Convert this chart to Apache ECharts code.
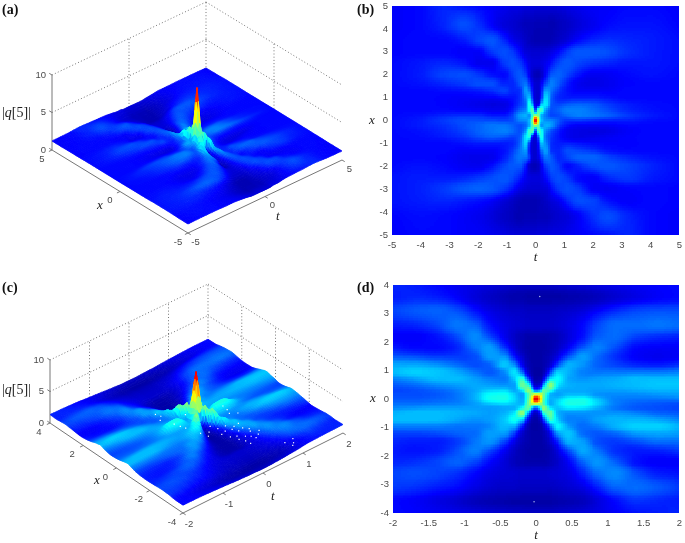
<!DOCTYPE html>
<html>
<head>
<meta charset="utf-8">
<title>|q[5]|</title>
<script src="https://cdn.jsdelivr.net/npm/echarts@6/dist/echarts.min.js"></script>
<style>
html, body { margin: 0; padding: 0; background: #fff; overflow: hidden; }
#chart { width: 685px; height: 543px; filter: blur(0.45px); }
</style>
</head>
<body>
<div id="chart"></div>
<script>
const tNodesWide = [-5,-4,-3.2,-2.5,-2,-1.5,-1.1,-0.8,-0.55,-0.35,-0.2,-0.1,0,0.1,0.2,0.35,0.55,0.8,1.1,1.5,2,2.5,3.2,4,5]
const xNodesWide = [5,4.2,3.5,3,2.5,2,1.6,1.3,1,0.7,0.45,0.2,0,-0.2,-0.45,-0.7,-1,-1.3,-1.6,-2,-2.5,-3,-3.5,-4.2,-5]
// |q[5]|, one row per x node
const fieldWide = [
  [1.2,1.3,1.6,1.4,1.3,1.2,1.1,1,1,.9,.9,.9,.9,.9,.9,.9,.9,.9,1,1.1,1.2,1.2,1.3,1.3,1.2],
  [1.2,1.3,1.6,2,1.7,1.2,.9,.8,.7,.6,.6,.6,.55,.55,.55,.55,.5,.6,.7,.9,1.1,1.3,1.4,1.4,1.25],
  [1.25,1.3,1.3,1.5,1.9,2.1,1.6,1.1,.9,.7,.6,.55,.5,.5,.5,.5,.55,.7,.9,1.3,1.6,1.7,1.6,1.5,1.35],
  [1.25,1.3,1.3,1.2,1.2,1.8,2,1.8,1.3,.9,.85,.8,.8,.8,.8,.85,1,1.3,1.8,2.1,2.1,2,1.7,1.5,1.35],
  [1.3,1.45,1.6,1.4,1.1,1.1,1.8,2,1.8,1.3,1,.9,.9,.9,.95,1.1,1.4,1.9,2.1,1.9,1.7,1.6,1.45,1.45,1.35],
  [1.3,1.5,1.9,2,1.8,1.4,1.3,1.8,2.1,1.8,1.1,.7,.55,.55,.7,1.3,2.1,2.2,1.9,1.4,1.1,1.15,1.3,1.4,1.3],
  [1.3,1.4,1.6,1.8,2,2,1.6,1.6,2.1,2.4,1.7,1.1,.8,.8,1.2,2,2.5,2.1,1.5,1.1,1,1.1,1.25,1.3,1.3],
  [1.3,1.3,1.35,1.4,1.5,1.7,1.9,1.6,1.7,2.8,2.3,1.3,.8,.8,1.4,2.8,2.4,1.8,1.4,1.2,1.2,1.2,1.3,1.3,1.3],
  [1.3,1.3,1.25,1.2,1.2,1.2,1.35,1.4,1.7,2.6,3.2,1.6,.8,.8,1.7,3.4,2.2,1.6,1.5,1.5,1.5,1.4,1.3,1.3,1.3],
  [1.3,1.3,1.25,1.15,1.05,.95,1,1.3,1.8,2.3,4,2.6,.9,1,3,3.6,2.1,1.9,2.1,2.2,2.1,1.8,1.5,1.35,1.3],
  [1.3,1.3,1.3,1.25,1.2,1.1,1.1,1.5,2.2,2.6,4,4.6,1.6,4.6,4.4,2.8,2,2.2,2.5,2.5,2.3,2,1.6,1.4,1.3],
  [1.3,1.4,1.6,1.7,1.7,1.5,1.5,1.9,2.8,3,2.6,4.5,5.6,4.7,3,2.4,1.9,2,2.3,2.5,2.4,2.2,1.8,1.5,1.3],
  [1.3,1.5,1.8,2,2,2,1.9,2,2.5,2.6,3.2,5.5,9.2,5.5,3.2,2.7,2.6,2.1,1.7,1.7,1.6,1.5,1.5,1.35,1.3],
  [1.3,1.5,1.7,2,2.2,2.4,2.4,2.2,2,2.3,3,4.7,5.6,4.5,2.6,3,2.8,1.9,1.4,1.2,1.2,1.2,1.3,1.3,1.3],
  [1.3,1.4,1.6,1.9,2.2,2.4,2.5,2.3,2,2.8,4.4,4.6,1.6,4.6,4,2.6,2,1.5,1.1,1,.95,1,1.2,1.3,1.3],
  [1.3,1.35,1.5,1.7,2,2.2,2.1,1.9,2.1,3.6,4,1,.9,2.6,4,2.3,1.8,1.4,1.1,1,1.05,1.15,1.25,1.3,1.3],
  [1.3,1.3,1.3,1.4,1.5,1.5,1.5,1.6,2.2,3.4,1.7,.8,.8,1.6,3.2,2.6,1.7,1.5,1.5,1.4,1.3,1.25,1.25,1.3,1.3],
  [1.3,1.3,1.3,1.2,1.2,1.2,1.4,1.8,2.4,2.8,1.4,.8,.8,1.3,2.3,2.8,1.7,1.6,2,1.9,1.7,1.4,1.3,1.3,1.3],
  [1.3,1.3,1.25,1.1,1.05,1.1,1.5,2,2.4,2.4,1.7,.8,.8,1.1,1.7,2.4,2.1,1.6,1.9,2.2,2.2,1.9,1.6,1.4,1.3],
  [1.3,1.4,1.3,1.15,1.1,1.4,1.9,2.1,2.1,1.4,.7,.55,.55,.7,1.1,1.8,2.1,1.8,1.3,1.6,2,2.1,1.9,1.6,1.3],
  [1.4,1.5,1.5,1.6,1.8,2,2.1,1.9,1.5,1.1,.95,.9,.9,.9,1,1.3,1.8,2,1.8,1.3,1.2,1.6,1.8,1.5,1.3],
  [1.4,1.55,1.8,2.1,2.2,2.1,1.8,1.4,1,.85,.8,.8,.8,.8,.85,.9,1.3,1.8,2,1.8,1.2,1.15,1.25,1.3,1.25],
  [1.4,1.5,1.6,1.5,1.4,1.2,.9,.7,.55,.5,.5,.5,.5,.55,.6,.7,.9,1.1,1.6,2,1.9,1.4,1.2,1.3,1.25],
  [1.25,1.35,1.3,1.2,1.1,.9,.7,.6,.5,.55,.55,.55,.55,.6,.6,.6,.7,.8,.9,1.2,1.7,2,1.6,1.3,1.2],
  [1.2,1.3,1.3,1.2,1.2,1.1,1,.9,.9,.9,.9,.9,.9,.9,.9,.9,1,1,1.1,1.2,1.3,1.4,1.6,1.3,1.2]
]

const tNodesNarrow = [-2,-1.7,-1.4,-1.1,-.85,-.65,-.45,-.3,-.2,-.1,-.05,0,.05,.1,.2,.3,.45,.65,.85,1.1,1.4,1.7,2]
const xNodesNarrow = [4,3.6,3.1,2.6,2.2,1.8,1.5,1.2,.95,.7,.5,.3,.15,0,-.15,-.3,-.5,-.7,-.95,-1.2,-1.5,-1.8,-2.2,-2.6,-3.1,-3.6,-4]
// |q[5]|, one row per x node
const fieldNarrow = [
  [1.6,1.5,1.3,1.1,1,.9,.8,.75,.7,.7,.7,.7,.7,.7,.7,.75,.8,.85,.95,1.05,1.15,1.25,1.3],
  [1.5,1.6,1.5,1.2,.9,.7,.55,.45,.45,.4,.4,.4,.4,.4,.4,.4,.45,.5,.6,.8,1,1.2,1.3],
  [1.9,2.1,2.2,2,1.4,1,.8,.7,.7,.65,.65,.65,.65,.65,.65,.7,.75,.9,1.2,1.6,1.9,2,2],
  [1.5,1.6,1.9,2.4,2.2,1.4,1,.85,.8,.75,.75,.75,.75,.75,.75,.8,.95,1.3,1.9,2.3,2.3,2.4,2.3],
  [1.2,1.2,1.4,2,2.6,1.9,1.1,.7,.55,.45,.45,.45,.45,.45,.5,.6,.9,1.4,2.1,2.3,1.9,1.7,1.6],
  [1.5,1.3,1.3,1.6,2.4,2.8,1.8,.9,.55,.4,.38,.38,.38,.4,.5,.7,1.2,2.1,2.5,2,1.3,1.2,1.2],
  [2.1,2,1.8,1.8,2,2.8,2.7,1.4,.8,.45,.4,.4,.4,.45,.6,1,2,2.8,2.3,1.7,1.2,1.1,1.2],
  [2.9,2.9,2.7,2.3,2,2.2,3.2,2.6,1.2,.5,.4,.38,.38,.45,.8,1.9,3,2.7,2.2,1.9,1.6,1.5,1.7],
  [3.1,3.3,3.2,2.9,2.4,2.1,2.6,3.5,2.3,.7,.4,.35,.35,.5,1.8,3.3,3,2.5,2.4,2.4,2.4,2.4,2.5],
  [2.5,2.8,3.1,3.1,2.8,2.5,2.4,3.3,4.2,1.8,.7,.4,.45,1,3.5,3.8,2.9,2.7,2.8,2.9,3.1,3.1,3.1],
  [2.1,2.3,2.6,2.8,2.9,2.8,2.7,2.8,4.8,4,1.4,.7,.9,2.6,5.2,3.6,3,2.9,2.9,3,3.1,3.2,3.2],
  [1.9,2,2.2,2.5,2.9,3.3,3.4,2.9,3.6,5.2,3.6,2.2,2.8,4.7,4.2,3,2.9,2.9,2.8,2.8,2.9,3,3],
  [2,2,2.1,2.4,3,3.8,3.9,3.3,2.8,4.6,5.6,6.4,6,5,3,2.8,3.1,3.1,2.7,2.6,2.6,2.7,2.8],
  [2.1,2.1,2.2,2.4,3,3.9,4,3.4,2.9,4.8,7,9.3,7.1,4.8,3,3.2,3.8,3.9,3.2,2.5,2.4,2.4,2.5],
  [2.3,2.3,2.4,2.5,2.8,3.3,3.5,3.2,3,5,6,6.4,5.6,4.6,2.9,3.4,4,4,3.4,2.5,2.2,2.1,2],
  [2.6,2.7,2.8,2.8,2.8,2.8,2.9,3,3.8,4.7,2.8,2.2,3.6,5.2,3.6,3.2,3.6,3.5,3,2.4,2.1,2,1.9],
  [3,3.1,3.1,3,2.9,2.8,3,3.6,5.2,2.6,.9,.7,1.4,4,4.8,3,2.7,2.7,2.7,2.7,2.5,2.2,2.1],
  [3.1,3.1,3.1,2.9,2.7,2.8,3.2,3.9,3.5,1,.45,.4,.7,1.8,4.4,3.3,2.5,2.5,2.8,3,3,2.8,2.5],
  [2.5,2.5,2.5,2.4,2.4,2.6,3.1,3,1.6,.5,.35,.35,.4,.7,2.3,3.7,2.8,2.3,2.5,3,3.3,3.3,3],
  [1.9,1.9,2,2.2,2.3,2.8,2.8,1.8,.8,.45,.38,.38,.4,.5,1.2,2.8,3.2,2.3,2.1,2.3,2.8,2.9,2.8],
  [1.6,1.5,1.5,1.8,2.4,2.7,1.9,1,.6,.45,.4,.4,.4,.45,.8,1.6,3,2.8,2,1.8,2,2.3,2.3],
  [1.5,1.4,1.5,2,2.5,2,1.2,.7,.5,.4,.38,.38,.38,.4,.55,1,2,2.9,2.4,1.7,1.5,1.6,1.8],
  [1.6,1.7,1.9,2.2,1.9,1.3,.9,.6,.5,.45,.45,.45,.45,.45,.55,.75,1.2,2.2,2.7,2.2,1.4,1.2,1.2],
  [1.9,2,1.9,1.7,1.3,1,.85,.8,.75,.75,.75,.75,.75,.75,.8,.85,1,1.6,2.3,2.6,2,1.5,1.4],
  [1.8,1.7,1.5,1.3,1,.8,.7,.7,.65,.65,.65,.65,.65,.65,.65,.7,.8,1,1.5,2.2,2.3,2.1,1.8],
  [1.3,1.2,1,.8,.6,.5,.45,.4,.4,.4,.4,.4,.4,.4,.4,.45,.5,.6,.9,1.3,1.7,1.6,1.5],
  [1.3,1.25,1.15,1.05,.95,.85,.8,.75,.75,.7,.7,.7,.7,.7,.7,.75,.8,.9,1,1.2,1.4,1.5,1.6]
]

// stray white render dots on the surface of (c): t, x, height
const speckles = [
  [.16,-2.03,2],[.1,-1.47,2],[.46,-2.11,2],[.18,-2.5,2],[.51,-2.47,2],[.24,-1.55,2],
  [-.01,-.83,2],[-.25,-1.3,2],[-.44,-.07,2],[-.54,1.18,2],[-.11,.41,2],[.6,-.4,2],
  [.82,-3.83,2],[.3,-1.8,2],[.36,-2.4,2],[.05,-1.9,2],[.22,-1.2,2],[-.4,-.3,2],
  [-.5,.95,2],[.55,-.65,2],[.7,-3.6,2],[.05,-1.15,2],[-.3,-.95,2],[.42,-1.75,2],
  [.28,-2.25,2],[.4,-2.6,2],[.12,-2.25,2],[.33,-1.45,2],[.5,-1.95,2],[-.02,-1.55,2],
  [.6,-2.3,2],[.46,-1.4,2],[.68,-.85,2],[.62,-.1,2],[-.48,.2,2],[-.6,.75,2],
  [.9,-3.6,2],[.75,-3.95,2],[-.15,-1.1,2],[.2,-2.75,2]
]
const whiteDotsNarrow = [[0.05,3.6],[-0.03,-3.6]]

const jetStops = ['#00007f','#0000ff','#007fff','#00ffff','#7fff7f','#ffff00','#ff7f00','#ff0000','#7f0000']
const jetTable = []
for (let i = 0; i <= 255; i++) jetTable.push(echarts.color.lerp(i / 255, jetStops))
const jet = v => jetTable[Math.max(0, Math.min(255, Math.round(v / 10 * 255)))]

const serif = '"Liberation Serif", serif'
const sans = '"Liberation Sans", sans-serif'
const tickColor = '#4a4a4a'

const mix = (a, b, s) => a + (b - a) * s

// shading between mesh nodes, same idea as shading interp
function nodeSlopes(nodes, vals) {
  return nodes.map((n, k) => {
    if (k === 0) return (vals[1] - vals[0]) / (nodes[1] - nodes[0])
    if (k === nodes.length - 1) return (vals[k] - vals[k - 1]) / (n - nodes[k - 1])
    const d0 = (vals[k] - vals[k - 1]) / (n - nodes[k - 1])
    const d1 = (vals[k + 1] - vals[k]) / (nodes[k + 1] - n)
    return d0 * d1 <= 0 ? 0 : 2 * d0 * d1 / (d0 + d1)
  })
}
function hermite(a, b, h, ma, mb, s) {
  const s2 = s * s, s3 = s2 * s
  return (2 * s3 - 3 * s2 + 1) * a + (s3 - 2 * s2 + s) * h * ma + (3 * s2 - 2 * s3) * b + (s3 - s2) * h * mb
}
function buildMesh(tNodes, xNodes, field) {
  return { tNodes, xNodes, field, slopes: field.map(row => nodeSlopes(tNodes, row)) }
}
function sampleMesh(mesh, i, j, s, r) {
  const { tNodes, xNodes, field, slopes } = mesh
  const last = xNodes.length - 1
  const lo = Math.max(0, j - 1), hi = Math.min(last, j + 2)
  const rows = [], vals = []
  for (let q = lo; q <= hi; q++) {
    rows.push(xNodes[q])
    vals.push(hermite(field[q][i], field[q][i + 1], tNodes[i + 1] - tNodes[i], slopes[q][i], slopes[q][i + 1], s))
  }
  const m = nodeSlopes(rows, vals)
  const k = j - lo
  return hermite(vals[k], vals[k + 1], rows[k + 1] - rows[k], m[k], m[k + 1], r)
}

// one row per mesh cell: t0, x0, t1, x1, column, row
function buildCells(mesh) {
  const { tNodes, xNodes } = mesh
  const rows = []
  for (let i = tNodes.length - 2; i >= 0; i--) {
    for (let j = 0; j < xNodes.length - 1; j++) {
      rows.push([tNodes[i], xNodes[j], tNodes[i + 1], xNodes[j + 1], i, j])
    }
  }
  return rows
}

function renderHeat(mesh) {
  return (params, api) => {
    const i0 = api.value(4), j0 = api.value(5)
    const p0 = api.coord([api.value(0), api.value(1)]), p1 = api.coord([api.value(2), api.value(3)])
    const nx = Math.max(2, Math.ceil((p1[0] - p0[0]) / 2))
    const ny = Math.max(2, Math.ceil((p1[1] - p0[1]) / 2))
    const children = []
    for (let i = 0; i < nx; i++) {
      for (let j = 0; j < ny; j++) {
        const l = Math.round(mix(p0[0], p1[0], i / nx)), r = Math.round(mix(p0[0], p1[0], (i + 1) / nx))
        const u = Math.round(mix(p0[1], p1[1], j / ny)), d = Math.round(mix(p0[1], p1[1], (j + 1) / ny))
        if (r <= l || d <= u) continue
        children.push({
          type: 'rect',
          shape: { x: l, y: u, width: r - l, height: d - u },
          style: { fill: jet(sampleMesh(mesh, i0, j0, (i + .5) / nx, (j + .5) / ny)) },
          silent: true
        })
      }
    }
    return { type: 'group', children, silent: true }
  }
}

const viewA = {
  tMin: -5, tMax: 5, xMin: -5, xMax: 5,
  left: [52, 150], bottom: [188, 233], right: [342, 160], back: [206, 77], zScale: 7.5,
  tTicks: [-5, 0, 5], xTicks: [-5, 0, 5], zTicks: [0, 5, 10],
  xOffset: [-10, 9], tOffset: [7.5, 9]
}
const viewC = {
  tMin: -2, tMax: 2, xMin: -4, xMax: 4,
  left: [50, 423], bottom: [183, 513], right: [343, 433], back: [208, 347], zScale: 6.3,
  tTicks: [-2, -1, 0, 1, 2], xTicks: [-4, -2, 0, 2, 4], zTicks: [0, 5, 10],
  xOffset: [-11, 9], tOffset: [6, 11]
}

function project(view, t, x, z) {
  const a = (t - view.tMin) / (view.tMax - view.tMin)
  const b = (view.xMax - x) / (view.xMax - view.xMin)
  const u = mix(mix(view.left[0], view.back[0], a), mix(view.bottom[0], view.right[0], a), b)
  const v = mix(mix(view.left[1], view.back[1], a), mix(view.bottom[1], view.right[1], a), b)
  return [u, v - z * view.zScale]
}

// the 3D panels show less relief on the low lobes than their colour suggests
function reliefOf(v) {
  if (v <= 1.2) return v
  if (v <= 3) return 1.2 + (v - 1.2) * .35
  if (v <= 5) return 1.83 + (v - 3) * .95
  return 3.73 + (v - 5) * 1.25
}

function renderSurface(view, mesh) {
  return (params, api) => {
    const t0 = api.value(0), x0 = api.value(1), t1 = api.value(2), x1 = api.value(3)
    const i0 = api.value(4), j0 = api.value(5)
    const a = project(view, t0, x0, 0), b = project(view, t1, x1, 0)
    const span = Math.max(Math.abs(b[0] - a[0]), Math.abs(b[1] - a[1]))
    const n = Math.max(2, Math.ceil(span / 3))
    const point = (s, r) => api.coord(project(view, mix(t0, t1, s), mix(x0, x1, r), reliefOf(sampleMesh(mesh, i0, j0, s, r))))
    const children = []
    for (let i = n - 1; i >= 0; i--) {
      for (let j = 0; j < n; j++) {
        const fill = jet(sampleMesh(mesh, i0, j0, (i + .5) / n, (j + .5) / n))
        children.push({
          type: 'polygon',
          shape: { points: [point(i / n, j / n), point((i + 1) / n, j / n), point((i + 1) / n, (j + 1) / n), point(i / n, (j + 1) / n)] },
          style: { fill, stroke: fill, lineWidth: 0.7 },
          silent: true
        })
      }
    }
    return { type: 'group', children, silent: true }
  }
}

// box lines as t, x, z, t, x, z, solid
function buildFrame(view) {
  const rows = []
  const { tMin, tMax, xMin, xMax } = view
  const dt = (tMax - tMin) * .02, dx = (xMax - xMin) * .02
  view.zTicks.forEach(z => {
    if (z > 0) {
      rows.push([tMin, xMax, z, tMax, xMax, z, 0])
      rows.push([tMax, xMax, z, tMax, xMin, z, 0])
    }
    rows.push([tMin, xMax, z, tMin, xMax + dx, z, 1])
  })
  view.tTicks.forEach(t => {
    if (t > tMin) rows.push([t, xMax, 0, t, xMax, 10, 0])
    rows.push([t, xMin, 0, t, xMin - dx, 0, 1])
  })
  view.xTicks.forEach(x => {
    if (x < xMax && x > xMin) rows.push([tMax, x, 0, tMax, x, 10, 0])
    rows.push([tMin, x, 0, tMin - dt, x, 0, 1])
  })
  rows.push([tMin, xMax, 0, tMin, xMax, 10, 1])
  rows.push([tMin, xMax, 0, tMin, xMin, 0, 1])
  rows.push([tMin, xMin, 0, tMax, xMin, 0, 1])
  return rows
}

function renderFrame(view) {
  return (params, api) => {
    const a = api.coord(project(view, api.value(0), api.value(1), api.value(2)))
    const b = api.coord(project(view, api.value(3), api.value(4), api.value(5)))
    const solid = api.value(6) === 1
    return {
      type: 'line',
      shape: { x1: a[0], y1: a[1], x2: b[0], y2: b[1] },
      style: solid
        ? { stroke: '#777', lineWidth: 1 }
        : { stroke: '#555', lineWidth: 0.8, lineDash: [1, 2.2] },
      silent: true
    }
  }
}

function buildTickLabels(view) {
  const rows = []
  view.zTicks.forEach(z => rows.push({ pos: [view.tMin, view.xMax, z], off: [-6, 0], align: 'right', text: String(z) }))
  view.xTicks.forEach(x => rows.push({ pos: [view.tMin, x, 0], off: view.xOffset, align: 'center', text: String(x) }))
  view.tTicks.forEach(t => rows.push({ pos: [t, view.xMin, 0], off: view.tOffset, align: 'center', text: String(t) }))
  return rows
}

function tickLabelSeries(view, axis) {
  const rows = buildTickLabels(view)
  return {
    type: 'custom',
    xAxisIndex: axis, yAxisIndex: axis,
    clip: false,
    data: rows.map(r => r.pos),
    renderItem: (params, api) => {
      const row = rows[params.dataIndex]
      const p = api.coord(project(view, api.value(0), api.value(1), api.value(2)))
      return {
        type: 'text',
        x: p[0] + row.off[0], y: p[1] + row.off[1],
        style: { text: row.text, fill: tickColor, font: '9.5px ' + sans, align: row.align, verticalAlign: 'middle' },
        silent: true
      }
    }
  }
}

function surfacePanel(view, axis, mesh) {
  return [{
    type: 'custom', xAxisIndex: axis, yAxisIndex: axis, clip: false, progressive: 0,
    data: buildFrame(view), renderItem: renderFrame(view)
  }, {
    type: 'custom', xAxisIndex: axis, yAxisIndex: axis, clip: false, progressive: 0,
    data: buildCells(mesh), renderItem: renderSurface(view, mesh)
  }, tickLabelSeries(view, axis)]
}

function heatPanel(axis, mesh) {
  return {
    type: 'custom', xAxisIndex: axis, yAxisIndex: axis, progressive: 0,
    data: buildCells(mesh), renderItem: renderHeat(mesh)
  }
}

const sceneAxis = (gridIndex, min, max, inverse) => ({
  type: 'value', gridIndex, min, max, inverse, show: false
})
const plotAxis = (gridIndex, min, max, interval, name, gap, vertical) => ({
  type: 'value', gridIndex, min, max, interval, name,
  nameLocation: 'middle', nameGap: gap, nameRotate: 0,
  nameTextStyle: { fontFamily: serif, fontStyle: 'italic', fontSize: 13, color: '#222' },
  axisLine: { show: false }, axisTick: { show: false }, splitLine: { show: false },
  axisLabel: { fontFamily: sans, fontSize: 9.5, color: tickColor, margin: vertical ? 4 : 5 }
})

const panelTitle = (text, left, top) => ({
  text, left, top, padding: 0,
  textStyle: { fontFamily: serif, fontSize: 14, fontWeight: 'bold', color: '#111' }
})
const zTitle = (left, top) => ({
  text: '|{i|q}[5]|', left, top, padding: 0,
  textStyle: {
    fontFamily: serif, fontSize: 14, fontWeight: 'normal', color: '#222',
    rich: { i: { fontFamily: serif, fontSize: 14, fontStyle: 'italic', color: '#222' } }
  }
})
const axisTitle = (text, left, top) => ({
  text, left, top, padding: 0,
  textStyle: { fontFamily: serif, fontSize: 13, fontStyle: 'italic', fontWeight: 'normal', color: '#222' }
})

const meshWide = buildMesh(tNodesWide, xNodesWide, fieldWide)
const meshNarrow = buildMesh(tNodesNarrow, xNodesNarrow, fieldNarrow)

const chart = echarts.init(document.getElementById('chart'), null, { renderer: 'canvas' })
chart.setOption({
  animation: false,
  backgroundColor: '#fff',
  title: [
    panelTitle('(a)', 2, 3), panelTitle('(b)', 357, 3), panelTitle('(c)', 2, 281), panelTitle('(d)', 357, 281),
    zTitle(2, 106), zTitle(2, 383),
    axisTitle('x', 97, 199), axisTitle('t', 276, 210),
    axisTitle('x', 94, 474), axisTitle('t', 271, 490)
  ],
  grid: [
    { left: 0, top: 0, width: 360, height: 265 },
    { left: 392, top: 6, width: 291, height: 229 },
    { left: 0, top: 270, width: 360, height: 273 },
    { left: 393, top: 285, width: 292, height: 230 }
  ],
  xAxis: [
    sceneAxis(0, 0, 360, false),
    plotAxis(1, -5, 5, 1, 't', 14, false),
    sceneAxis(2, 0, 360, false),
    plotAxis(3, -2, 2, .5, 't', 14, false)
  ],
  yAxis: [
    // scene axes count down from the top of each panel
    sceneAxis(0, 0, 265, true),
    plotAxis(1, -5, 5, 1, 'x', 12, true),
    sceneAxis(2, 270, 543, true),
    plotAxis(3, -4, 4, 1, 'x', 12, true)
  ],
  series: [
    ...surfacePanel(viewA, 0, meshWide),
    heatPanel(1, meshWide),
    ...surfacePanel(viewC, 2, meshNarrow),
    {
      type: 'custom', xAxisIndex: 2, yAxisIndex: 2, clip: false,
      data: speckles,
      renderItem: (params, api) => {
        const p = api.coord(project(viewC, api.value(0), api.value(1), api.value(2)))
        return { type: 'rect', shape: { x: p[0], y: p[1], width: 1.2, height: 1.2 }, style: { fill: '#ffffff' }, silent: true }
      }
    },
    heatPanel(3, meshNarrow),
    {
      type: 'scatter', xAxisIndex: 3, yAxisIndex: 3, symbolSize: 1.5, silent: true,
      itemStyle: { color: '#cfe0ff' }, data: whiteDotsNarrow
    }
  ]
})
</script>
</body>
</html>
